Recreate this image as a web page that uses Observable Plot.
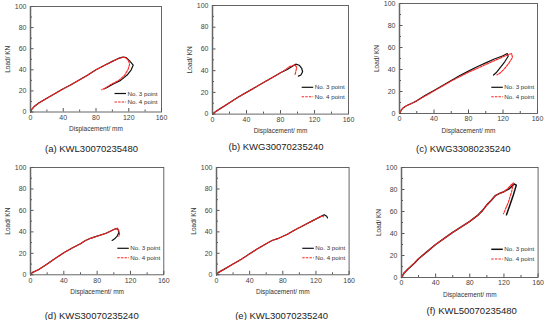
<!DOCTYPE html>
<html><head><meta charset="utf-8">
<script src="https://cdn.jsdelivr.net/npm/d3@7"></script>
<script src="https://cdn.jsdelivr.net/npm/@observablehq/plot@0.6"></script>
<style>
html,body{margin:0;padding:0;background:#fff;}
#fig{position:relative;width:550px;height:320px;overflow:hidden;font-family:"Liberation Sans",Arial,sans-serif;}
.panel{position:absolute;}
.panel svg{overflow:visible;}
.cap{position:absolute;font-size:9.5px;color:#222;white-space:nowrap;transform:translate(-50%,-50%);}
#leg{position:absolute;left:0;top:0;pointer-events:none;}
</style></head><body><div id="fig"></div>
<script>
// ---- tick values & labels ----
const xMajor = [0, 40, 80, 120, 160];
const xMinor = [20, 60, 100, 140];
const yMajor = [0, 20, 40, 60, 80, 100];
const yMinor = [10, 30, 50, 70, 90];
const xLabel = "Displacement/ mm";
const yLabel = "Load/ KN";
const seriesNames = ["No. 3 point", "No. 4 point"];
const captions = ["(a) KWL30070235480", "(b) KWG30070235240", "(c) KWG33080235240",
                  "(d) KWS30070235240", "(e) KWL30070235240", "(f) KWL50070235480"];

// ---- series: [displacement mm, load kN] ----
const a_no3 = [[0,0],[2,3],[5,5.5],[10,8.5],[20,13],[30,17.5],[40,22],[50,26],[60,30.5],[70,35],[80,40],[90,44],[100,48],[108,51],[113,52],[117,51.5],[121,48.5],[125.5,44.5],[123,40],[118,35],[110,30],[100,26],[93,23],[90,22]];
const a_no4 = [[0,0],[2,3],[5,5.5],[10,8.5],[20,13],[30,17.5],[40,22],[50,26],[60,30.5],[70,35],[80,40],[90,44],[100,48],[108,51],[114,52],[117,51],[120,48],[121,45],[119,40],[115,35],[108,30],[98,26],[92,23],[87,21]];

const b_no3 = [[0,0],[3,2],[10,5.5],[20,10.5],[30,15.5],[40,20],[50,24.5],[60,29],[70,33.5],[80,38],[88,41],[94,44],[98,46],[102,45],[105,42],[106,39],[104,36],[101,35]];
const b_no4 = [[0,0],[3,2],[10,5.5],[20,10.5],[30,15.5],[40,20],[50,24.5],[60,29],[70,33.5],[80,38],[86,41],[90,43.5],[94,44.5],[97,45.5],[99,43],[98,39],[97,36]];

const c_no3 = [[0,0],[2,3],[4,5],[8,7],[15,9.5],[20,11.5],[30,16.5],[40,21],[50,25.5],[60,30],[70,34.5],[80,38.5],[90,42.5],[100,46],[110,49.5],[120,52.5],[125,54.5],[126,52],[122,47],[117,42],[112,37],[109,35]];
const c_no4 = [[0,0],[2,3],[4,5],[8,7],[15,9.5],[20,11.5],[30,16],[40,20.5],[50,25],[60,29.5],[70,33.5],[80,37.5],[90,41],[100,44.5],[110,48],[120,51.5],[126,53.5],[130,54.5],[131,51],[127,46],[122,41],[117,37],[113,35]];

const d_no3 = [[0,0],[2,2],[10,5],[20,10],[30,15.5],[40,20.5],[50,25],[60,29],[66,32],[72,34],[80,36],[90,38.5],[97,41],[102,43],[105,42.5],[106,39.5],[104,36],[101,33.5],[98,32]];
const d_no4 = [[0,0],[2,2],[10,5],[20,10],[30,15.5],[40,20.5],[50,25],[60,29],[66,32],[72,34],[80,36],[90,38.5],[97,41],[102,43],[104.5,43.5],[106,41],[107,38],[106,36]];

const e_no3 = [[0,0],[2,2],[10,5.5],[20,10],[30,14.5],[40,19.5],[50,24.5],[60,29],[67,32],[75,34],[85,37.5],[95,42],[105,46],[115,50],[125,54],[130,56],[133,54.5],[134,53]];
const e_no4 = [[0,0],[2,2],[10,5.5],[20,10],[30,14.5],[40,19.5],[50,24.5],[60,29],[67,32],[75,34],[85,37.5],[95,42],[105,46],[115,50],[125,54],[128,55],[129,54]];

const f_no3 = [[0,0],[3,4],[8,8],[15,13],[20,17],[30,23.5],[40,30],[50,35.5],[60,41],[70,46],[80,51],[90,57],[95,61],[100,66],[105,70],[110,74.5],[115,76.5],[120,78],[126,80.5],[130,83.5],[132,85],[134.5,84],[131,75],[127,66],[123,57]];
const f_no4 = [[0,0],[3,4],[8,8],[15,13],[20,17],[30,23.5],[40,30],[50,35.5],[60,41],[70,46],[80,51],[90,57],[95,61],[100,66],[105,70],[110,74.5],[115,76.5],[120,78],[124,80.5],[128,84],[131,86],[129,78],[125,68],[119.5,58]];

// ---- layout (pixel frames) ----
const layout = [
  {no3:a_no3, no4:a_no4, L:29.5, R:160.5, T:6,     B:111.5, cx:91.5,  cy:148.3, r1:18,   r2:9.5,  w3:1.2},
  {no3:b_no3, no4:b_no4, L:211.7, R:347.7, T:4.7,  B:113.3, cx:276,   cy:145.8, r1:26,   r2:16.6, w3:1.2},
  {no3:c_no3, no4:c_no4, L:399.3, R:537.3, T:3.3,  B:113.3, cx:463.3, cy:147.7, r1:26,   r2:16.6, w3:1.2},
  {no3:d_no3, no4:d_no4, L:30,    R:163.3, T:166.7, B:274,  cx:91.7,  cy:315,   r1:25.7, r2:16.3, w3:1.2},
  {no3:e_no3, no4:e_no4, L:215.7, R:348.3, T:166.7, B:274,  cx:281.7, cy:315,   r1:25.7, r2:16.3, w3:1.2},
  {no3:f_no3, no4:f_no4, L:400.7, R:537.3, T:166.7, B:276.7, cx:471.7, cy:310,  r1:27.4, r2:17.7, w3:1.5}
];

const FONT = '"Liberation Sans", Arial, sans-serif';
const fig = document.getElementById("fig");
const mL = 30, mR = 4, mT = 4, mB = 26;
const RED = "#ff1f1f";

layout.forEach((p, i) => {
  const fw = p.R - p.L, fh = p.B - p.T;
  const chart = Plot.plot({
    width: fw + mL + mR, height: fh + mT + mB,
    marginLeft: mL, marginRight: mR, marginTop: mT, marginBottom: mB,
    x: {domain: [0, 160]}, y: {domain: [0, 100]},
    style: {fontFamily: FONT, background: "transparent", overflow: "visible"},
    marks: [
      Plot.axisX(xMajor, {tickSize: 0, tickPadding: 3, fontSize: 7, label: null, color: "#444"}),
      Plot.axisY(yMajor, {tickSize: 0, tickPadding: 4, fontSize: 7, label: null, color: "#444"}),
      Plot.tickX(xMajor, {x: d => d, insetTop: fh - 3.5, stroke: "#555"}),
      Plot.tickX(xMinor, {x: d => d, insetTop: fh - 2, stroke: "#555"}),
      Plot.tickY(yMajor, {y: d => d, insetRight: fw - 3.5, stroke: "#555"}),
      Plot.tickY(yMinor, {y: d => d, insetRight: fw - 2, stroke: "#555"}),
      Plot.line(p.no3, {stroke: "#111", strokeWidth: p.w3}),
      Plot.line(p.no4, {stroke: RED, strokeWidth: 1.1, strokeDasharray: "2.4,1.2"}),
      Plot.frame({stroke: "#555", strokeWidth: 0.9}),
      Plot.ruleX([0], {stroke: "#666", strokeWidth: 1.5}),
      Plot.text([xLabel], {text: d => d, frameAnchor: "bottom", dy: 17, lineAnchor: "middle", fontSize: 6.5, fill: "#333"}),
      Plot.text([yLabel], {text: d => d, frameAnchor: "left", dx: -22.5, rotate: -90, textAnchor: "middle", lineAnchor: "middle", fontSize: 6.5, fill: "#333"})
    ]
  });
  const div = document.createElement("div");
  div.className = "panel";
  div.style.left = (p.L - mL) + "px";
  div.style.top = (p.T - mT) + "px";
  div.appendChild(chart);
  fig.appendChild(div);

  const cap = document.createElement("div");
  cap.className = "cap";
  cap.style.left = p.cx + "px";
  cap.style.top = p.cy + "px";
  cap.textContent = captions[i];
  fig.appendChild(cap);
});

// ---- legends ----
const leg = d3.select(fig).append("svg").attr("id", "leg").attr("width", 550).attr("height", 320);
layout.forEach(p => {
  const rows = [p.B - p.r1, p.B - p.r2];
  seriesNames.forEach((name, k) => {
    const y = rows[k];
    leg.append("line")
      .attr("x1", p.R - 46).attr("x2", p.R - 34.5).attr("y1", y).attr("y2", y)
      .attr("stroke", k === 0 ? "#111" : RED)
      .attr("stroke-width", k === 0 ? p.w3 : 1.1)
      .attr("stroke-dasharray", k === 0 ? null : "2.4,1.2");
    leg.append("text")
      .attr("x", p.R - 33).attr("y", y).attr("dy", "0.35em")
      .attr("font-family", FONT).attr("font-size", 6.2).attr("fill", "#333")
      .text(name);
  });
});
</script></body></html>
